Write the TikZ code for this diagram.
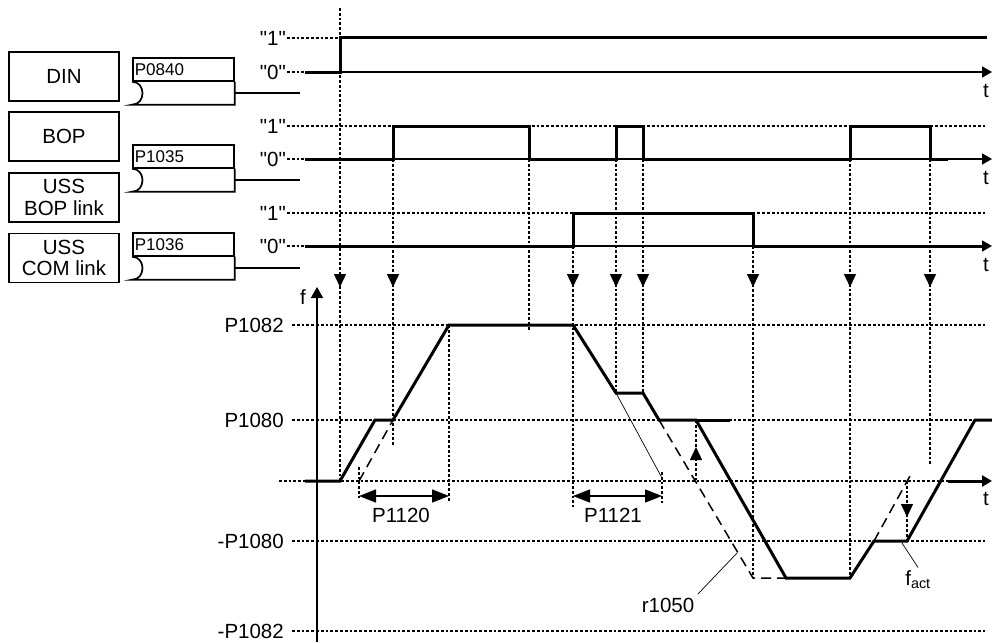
\documentclass[tikz,border=0pt]{standalone}
\usepackage{fontspec}
\setsansfont{Liberation Sans}
\usetikzlibrary{arrows.meta}

\begin{document}
\begin{tikzpicture}[
    x=1pt, y=-1pt,
    font=\sffamily\fontsize{20.5}{21.7}\selectfont,
    srcbox/.style  = {rectangle, draw, line width=1.7pt, minimum width=110pt,
                      minimum height=49pt, align=center, inner sep=0pt},
    parbox/.style  = {rectangle, draw, line width=1.7pt, anchor=north west, text width=97pt,
                      inner xsep=2pt, inner ysep=0pt, minimum height=23pt, align=left,
                      font=\sffamily\fontsize{17}{17}\selectfont},
    boxline/.style = {line width=1.7pt},
    level/.style   = {anchor=east, inner sep=1pt},
    sig/.style     = {line width=3pt, line join=miter},
    axis/.style    = {line width=1.5pt, -{Triangle[length=10pt,width=11pt]}},
    grid/.style    = {line width=1.4pt, dash pattern=on 2.8pt off 2pt},
    trig/.style    = {line width=1.4pt, -{Triangle[length=13pt,width=12pt]}},
    ramp/.style    = {line width=1.5pt, dash pattern=on 10pt off 6pt},
    dim/.style     = {line width=1.6pt, {Triangle[length=17pt,width=13pt]}-{Triangle[length=17pt,width=13pt]}},
    lead/.style    = {line width=0.7pt},
]
\useasboundingbox (0,0) rectangle (992,642);

% ---------------- sources ----------------
\node[srcbox] (din)  at (64,76.5)  {DIN};
\node[srcbox] (bop)  at (64,136.5) {BOP};
\node[srcbox] (bopl) at (64,197.5) {USS\\BOP link};
\node[srcbox] (coml) at (64,258)   {USS\\COM link};

\foreach \nm/\top in {P0840/57, P1035/144, P1036/232} {
  \node[parbox] (\nm) at (132,\top) {\nm};
  \draw[boxline] (\nm.south west) .. controls +(14,0) and +(14,0) .. ([yshift=-23pt]\nm.south west)
    -- ([yshift=-23pt]\nm.south east) -- (\nm.south east);
  \draw[line width=1.5pt] ([yshift=-11.5pt]\nm.south east) -- ++(65,0);
}

% ---------------- binary signals ----------------
\foreach \row/\hi/\lo in {din/38/72, bop/126/159, com/213/246} {
  \node[level] (\row hi) at (287,\hi) {\textquotedbl 1\textquotedbl};
  \node[level] (\row lo) at (287,\lo) {\textquotedbl 0\textquotedbl};
  \draw[axis] (305,\lo) -- (992,\lo);
  \node[anchor=west, inner sep=0pt] (\row t) at (983,\lo+19) {t};
}
\draw[grid] (dinhi.east) -- (340,38);
\draw[grid] (dinlo.east) -- (305,72);
\draw[grid] (bophi.east) -- (985,126);
\draw[grid] (boplo.east) -- (948,159);
\draw[grid] (comhi.east) -- (985,213);
\draw[grid] (comlo.east) -- (753,246);

\draw[sig] (305,72) -- (340,72) -- (340,38) -- (987,38);
\draw[sig] (305,159) -- (393,159) -- (393,126) -- (529,126) -- (529,159) -- (616,159) -- (616,126)
  -- (643,126) -- (643,159) -- (850,159) -- (850,126) -- (930,126) -- (930,159) -- (948,159);
\draw[sig] (305,246) -- (573,246) -- (573,213) -- (753,213) -- (753,246) -- (985,246);

% ---------------- event lines ----------------
\foreach \x/\a/\b in {340/8/481, 393/159/445, 529/159/330, 573/246/507, 616/159/393,
                      643/159/393, 753/246/578, 850/159/578, 930/159/465,
                      359/467/498, 449/325/502, 662/472/503}
  \draw[grid] (\x,\a) -- (\x,\b);
\foreach \x in {340,393,573,616,643,753,850,930}
  \draw[trig] (\x,275) -- (\x,287);

% ---------------- frequency ----------------
\draw[line width=1.6pt, -{Triangle[length=11pt,width=12pt]}] (317,642) -- (317,287);
\node (f) at (303,297) {f};
\foreach \nm/\y in {P1082/325, P1080/420, -P1080/541, -P1082/631} {
  \node[level, inner sep=2pt] (lv\nm) at (286,\y) {\nm};
  \draw[grid] (292,\y) -- (985,\y);
}
\draw[grid] (279,481) -- (948,481);
\draw[line width=3pt, -{Triangle[length=10pt,width=11pt]}] (948,481) -- (992,481);
\node[anchor=west, inner sep=0pt] (ft) at (983,499) {t};

\draw[grid] (696,420) -- (696,481);
\draw[trig] (696,460) -- (696,447);
\draw[grid] (907,481) -- (907,541);
\draw[trig] (907,504) -- (907,517);

\draw[sig] (305,481) -- (340,481) -- (375,420) -- (393,420) -- (449,325) -- (573,325) -- (616,393)
  -- (643,393) -- (659,420) -- (696,420) -- (786,578) -- (850,578) -- (874,541) -- (907,541)
  -- (975,420) -- (992,420);
\draw[sig] (696,420) -- (730,420);

\draw[ramp] (359,481) -- (393,420);
\draw[ramp] (659,420) -- (753,578) -- (786,578);
\draw[ramp] (874,541) -- (910,476);
\draw[lead] (616,393) -- (662,478);

\draw[dim] (359,496) -- (449,496);
\node (p1120) at (401,515) {P1120};
\draw[dim] (573,496) -- (662,496);
\node (p1121) at (613,515) {P1121};

\node (r1050) at (668,605) {r1050};
\draw[lead] (r1050.north east) -- (737,553);
\node (fact) at (918,580) {f\textsubscript{act}};
\draw[lead] (fact.north) -- (902,543);

\end{tikzpicture}
\end{document}
